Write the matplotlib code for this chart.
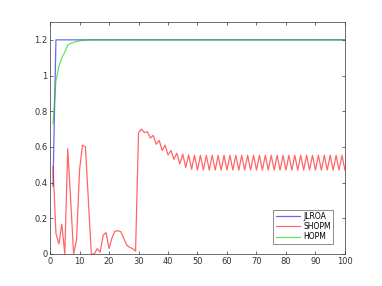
import matplotlib
matplotlib.use("Agg")
import matplotlib.pyplot as plt

iters = list(range(1, 101))

# JLROA: jumps to the optimum after the first step
jlroa = [0.38] + [1.2] * 99

# SHOPM: erratic start, jump at 30, then period-2 oscillation
shopm = [0.49, 0.115, 0.056, 0.167, 0.00, 0.59, 0.30, 0.00, 0.08, 0.47,
         0.61, 0.60, 0.30, 0.00, 0.00, 0.03, 0.01, 0.105, 0.12, 0.03,
         0.09, 0.128, 0.13, 0.125, 0.087, 0.05, 0.037, 0.03, 0.016, 0.68,
         0.70, 0.68, 0.685, 0.65, 0.665, 0.615, 0.637, 0.58, 0.61, 0.555,
         0.58, 0.53, 0.565, 0.505, 0.56, 0.485, 0.555, 0.475, 0.553, 0.47,
         0.553, 0.47, 0.553, 0.47, 0.553, 0.47, 0.553, 0.47, 0.553, 0.47,
         0.553, 0.47, 0.553, 0.47, 0.553, 0.47, 0.553, 0.47, 0.553, 0.47,
         0.553, 0.47, 0.553, 0.47, 0.553, 0.47, 0.553, 0.47, 0.553, 0.47,
         0.553, 0.47, 0.553, 0.47, 0.553, 0.47, 0.553, 0.47, 0.553, 0.47,
         0.553, 0.47, 0.553, 0.47, 0.553, 0.47, 0.553, 0.47, 0.553, 0.47]

# HOPM: smooth climb to 1.2
hopm = [0.73, 0.97, 1.05, 1.10, 1.13, 1.17, 1.18, 1.187, 1.19, 1.195,
        1.197, 1.198, 1.199, 1.2, 1.2] + [1.2] * 85

fig = plt.figure(figsize=(3.82, 2.86), dpi=100)
ax = fig.add_axes([0.131, 0.112, 0.772, 0.811])

ax.plot(iters, jlroa, color=(0, 0, 1), alpha=0.6, lw=0.9, label="JLROA")
ax.plot(iters, shopm, color=(1, 0, 0), alpha=0.6, lw=0.9, label="SHOPM")
ax.plot(iters, hopm, color=(0, 0.8, 0), alpha=0.6, lw=0.9, label="HOPM")

ax.set_xlim(0, 100)
ax.set_ylim(0, 1.3)
ax.set_xticks(range(0, 101, 10))
ax.set_yticks([0, 0.2, 0.4, 0.6, 0.8, 1.0, 1.2])
ax.set_yticklabels(["0", "0.2", "0.4", "0.6", "0.8", "1", "1.2"])
ax.tick_params(direction="in", top=True, right=True, labelsize=6,
               length=2.5, width=0.5, colors="#333333", pad=2)
for s in ax.spines.values():
    s.set_linewidth(0.5)
    s.set_color("#333333")

leg = ax.legend(loc="lower right", bbox_to_anchor=(0.96, 0.045),
                fontsize=5.5, frameon=True, fancybox=False,
                handlelength=3.2, handletextpad=0.4, borderpad=0.3,
                labelspacing=0.15, borderaxespad=0)
leg.get_frame().set_edgecolor("#333333")
leg.get_frame().set_linewidth(0.5)

fig.savefig("out.png", dpi=100)
